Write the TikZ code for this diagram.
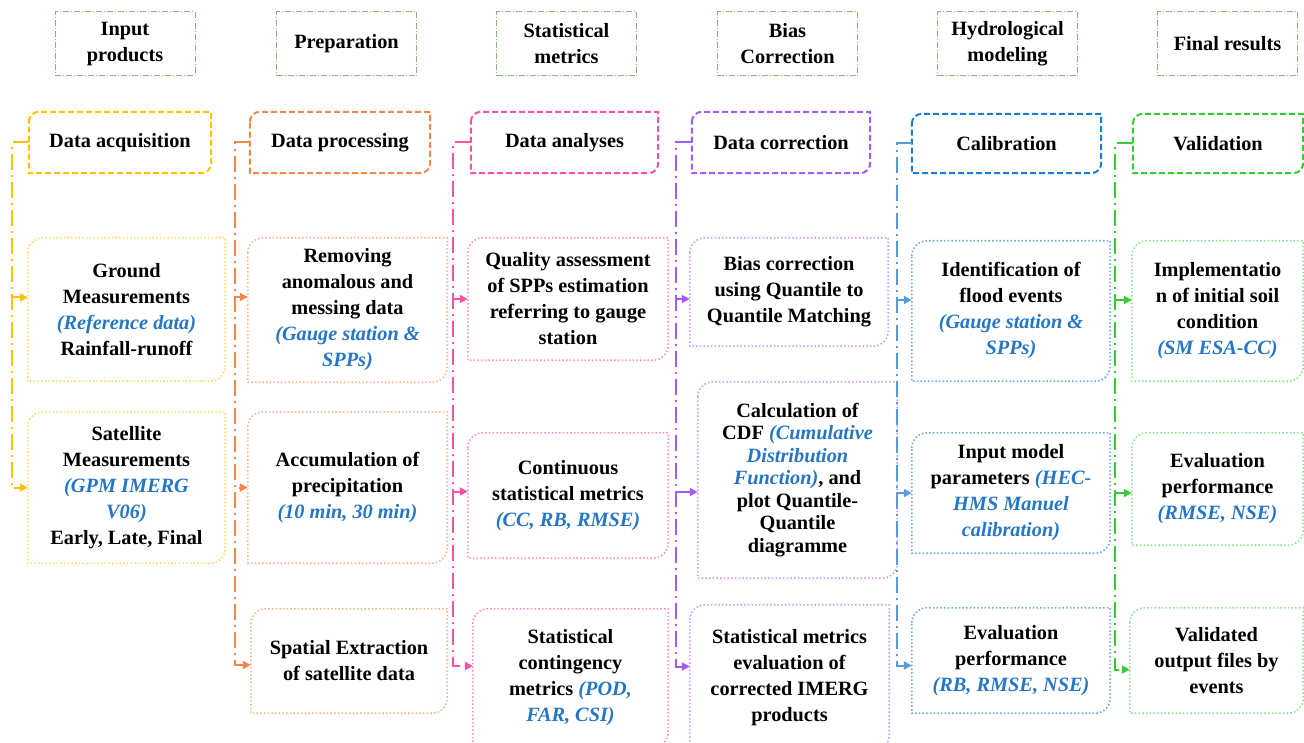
\documentclass[tikz,border=0pt]{standalone}
\usepackage{fontspec}
\setmainfont{Liberation Serif}
\usetikzlibrary{arrows.meta}

\definecolor{headgreen}{HTML}{8DB07A}
\definecolor{noteblue}{HTML}{2576C5}
\definecolor{yellowA}{HTML}{FFC000}
\definecolor{yellowB}{HTML}{FFD966}
\definecolor{orangeA}{HTML}{F4874B}
\definecolor{orangeB}{HTML}{F8B48A}
\definecolor{pinkA}{HTML}{FF4FA7}
\definecolor{pinkB}{HTML}{FF8CC6}
\definecolor{purpleA}{HTML}{A35CF7}
\definecolor{purpleB}{HTML}{C39BF9}
\definecolor{blueA}{HTML}{1C7CD5}
\definecolor{blueL}{HTML}{5B9BD5}
\definecolor{blueB}{HTML}{6FA8DC}
\definecolor{greenA}{HTML}{33CC33}
\definecolor{greenB}{HTML}{8EE08E}

\newcommand{\bluenote}[1]{{\color{noteblue}\itshape #1}}
% frame with round top-left and bottom-right corners
\newcommand{\cutframe}[3]{%
  \draw[#2] ([yshift=-#3]#1.north west) arc[start angle=180,end angle=90,radius=#3]
    -- (#1.north east) -- ([yshift=#3]#1.south east)
    arc[start angle=0,end angle=-90,radius=#3] -- (#1.south west) -- cycle;}

\tikzset{
  every node/.style={align=center, inner sep=0pt, font=\fontsize{20.3}{26}\selectfont\bfseries},
  sz/.style 2 args={minimum width=#1pt, minimum height=#2pt},
  head/.style={draw=headgreen, line width=1pt, dash pattern=on 6pt off 2pt on 1pt off 2pt,
    minimum width=140pt, minimum height=64pt},
  titleline/.style={line width=2pt, dash pattern=on 6pt off 3pt},
  itemline/.style={line width=1.6pt, dash pattern=on 1.5pt off 2.2pt},
  link/.style={line width=2pt, dash pattern=on 16pt off 5pt on 2pt off 5pt,
    -{Triangle[length=8pt,width=8pt]}},
}

\begin{document}
\begin{tikzpicture}[x=1pt,y=1pt]
\useasboundingbox (0,0) rectangle (1304,-743);
%%%%%%%%%%%%%%%% stage headers
\node[head] (hinput) at (125,-44) {Input\\products};
\node[head] (hprep) at (346.5,-44) {Preparation};
\node[head] (hstat) at (566.5,-44) {Statistical\\metrics};
\node[head] (hbias) at (787.5,-44) {Bias\\Correction};
\node[head] (hhydro) at (1007.5,-44) {Hydrological\\modeling};
\node[head] (hfinal) at (1227.5,-44) {Final results};
%%%%%%%%%%%%%%%% acquisition
\node[sz={182}{61}] (acq) at (120,-142.5) {Data acquisition};
\node[sz={197}{143}] (ground) at (126.5,-309.5) {Ground\\Measurements\\\bluenote{(Reference data)}\\Rainfall-runoff};
\node[sz={197}{151}] (sat) at (126.5,-487.5) {Satellite\\Measurements\\\bluenote{(GPM IMERG}\\\bluenote{V06)}\\Early, Late, Final};
\cutframe{acq}{titleline,draw=yellowA}{10pt}
\cutframe{ground}{itemline,draw=yellowB}{15pt}
\cutframe{sat}{itemline,draw=yellowB}{15pt}
\coordinate (acqspine) at (12,-142.5);
\draw[link,yellowA] (acq.west) -- (acqspine) |- ([yshift=12pt]ground.west);
\draw[link,yellowA] (acq.west) -- (acqspine) |- (sat.west);
%%%%%%%%%%%%%%%% processing
\node[sz={180}{61}] (proc) at (340,-142.5) {Data processing};
\node[sz={199}{144}] (remove) at (347.5,-310) {Removing\\anomalous and\\messing data\\\bluenote{(Gauge station \&}\\\bluenote{SPPs)}};
\node[sz={199}{151}] (accum) at (347.5,-487.5) {Accumulation of\\precipitation\\\bluenote{(10 min, 30 min)}};
\node[sz={196}{104}] (spatial) at (349,-661) {Spatial Extraction\\of satellite data};
\cutframe{proc}{titleline,draw=orangeA}{10pt}
\cutframe{remove}{itemline,draw=orangeB}{15pt}
\cutframe{accum}{itemline,draw=orangeB}{15pt}
\cutframe{spatial}{itemline,draw=orangeB}{15pt}
\coordinate (procspine) at (235,-142.5);
\draw[link,orangeA] (proc.west) -- (procspine) |- ([yshift=13pt]remove.west);
\draw[link,orangeA] (proc.west) -- (procspine) |- (accum.west);
\draw[link,orangeA] (proc.west) -- (procspine) |- ([yshift=-4pt]spatial.west);
%%%%%%%%%%%%%%%% analyses
\node[sz={187}{61}] (anal) at (564.5,-142.5) {Data analyses};
\node[sz={200}{122}] (quality) at (568,-299) {Quality assessment\\of SPPs estimation\\referring to gauge\\station};
\node[sz={200}{125}] (contin) at (568,-495.5) {Continuous\\statistical metrics\\\bluenote{(CC, RB, RMSE)}};
\node[sz={195}{138}] (conting) at (570.5,-678) {Statistical\\contingency\\metrics \bluenote{(POD,}\\\bluenote{FAR, CSI)}};
\cutframe{anal}{titleline,draw=pinkA}{10pt}
\cutframe{quality}{itemline,draw=pinkB}{15pt}
\cutframe{contin}{itemline,draw=pinkB}{15pt}
\cutframe{conting}{itemline,draw=pinkB}{15pt}
\coordinate (analspine) at (453,-142.5);
\draw[link,pinkA] (anal.west) -- (analspine) |- (quality.west);
\draw[link,pinkA] (anal.west) -- (analspine) |- ([yshift=4pt]contin.west);
\draw[link,pinkA] (anal.west) -- (analspine) |- ([yshift=12pt]conting.west);
%%%%%%%%%%%%%%%% correction
\node[sz={178}{61}] (corr) at (781,-142.5) {Data correction};
\node[sz={198}{108}] (biascorr) at (789,-292) {Bias correction\\using Quantile to\\Quantile Matching};
\node[sz={199}{196},font=\fontsize{20.3}{22.5}\selectfont\bfseries] (cdf) at (797.5,-480) {Calculation of\\CDF \bluenote{(Cumulative}\\\bluenote{Distribution}\\\bluenote{Function)}, and\\plot Quantile-\\Quantile\\diagramme};
\node[sz={199}{145}] (evalcorr) at (789.5,-677.5) {Statistical metrics\\evaluation of\\corrected IMERG\\products};
\cutframe{corr}{titleline,draw=purpleA}{10pt}
\cutframe{biascorr}{itemline,draw=purpleB}{15pt}
\cutframe{cdf}{itemline,draw=purpleB}{15pt}
\cutframe{evalcorr}{itemline,draw=purpleB}{15pt}
\coordinate (corrspine) at (676,-142.5);
\draw[link,purpleA] (corr.west) -- (corrspine) |- ([yshift=-7pt]biascorr.west);
\draw[link,purpleA] (corr.west) -- (corrspine) |- ([yshift=-12pt]cdf.west);
\draw[link,purpleA] (corr.west) -- (corrspine) |- ([yshift=11pt]evalcorr.west);
%%%%%%%%%%%%%%%% calibration
\node[sz={189}{59}] (calib) at (1006.5,-143.5) {Calibration};
\node[sz={198}{140}] (ident) at (1011,-311) {Identification of\\flood events\\\bluenote{(Gauge station \&}\\\bluenote{SPPs)}};
\node[sz={198}{120}] (inmodel) at (1011,-493) {Input model\\parameters \bluenote{(HEC-}\\\bluenote{HMS Manuel}\\\bluenote{calibration)}};
\node[sz={198}{105}] (evalperf) at (1011,-660.5) {Evaluation\\performance\\\bluenote{(RB, RMSE, NSE)}};
\cutframe{calib}{titleline,draw=blueA}{10pt}
\cutframe{ident}{itemline,draw=blueB}{15pt}
\cutframe{inmodel}{itemline,draw=blueB}{15pt}
\cutframe{evalperf}{itemline,draw=blueB}{15pt}
\coordinate (calibspine) at (897,-143.5);
\draw[link,blueL] (calib.west) -- (calibspine) |- ([yshift=11pt]ident.west);
\draw[link,blueL] (calib.west) -- (calibspine) |- (inmodel.west);
\draw[link,blueL] (calib.west) -- (calibspine) |- ([yshift=-5pt]evalperf.west);
%%%%%%%%%%%%%%%% validation
\node[sz={170}{59}] (valid) at (1218,-143.5) {Validation};
\node[sz={171}{140}] (implem) at (1217.5,-311) {Implementatio\\n of initial soil\\condition\\\bluenote{(SM ESA-CC)}};
\node[sz={171}{112}] (evalval) at (1217.5,-489) {Evaluation\\performance\\\bluenote{(RMSE, NSE)}};
\node[sz={173}{105}] (validated) at (1216.5,-660.5) {Validated\\output files by\\events};
\cutframe{valid}{titleline,draw=greenA}{10pt}
\cutframe{implem}{itemline,draw=greenB}{15pt}
\cutframe{evalval}{itemline,draw=greenB}{15pt}
\cutframe{validated}{itemline,draw=greenB}{15pt}
\coordinate (validspine) at (1115,-143.5);
\draw[link,greenA] (valid.west) -- (validspine) |- ([yshift=11pt]implem.west);
\draw[link,greenA] (valid.west) -- (validspine) |- ([yshift=-4pt]evalval.west);
\draw[link,greenA] (valid.west) -- (validspine) |- ([yshift=-9pt]validated.west);
\end{tikzpicture}
\end{document}
